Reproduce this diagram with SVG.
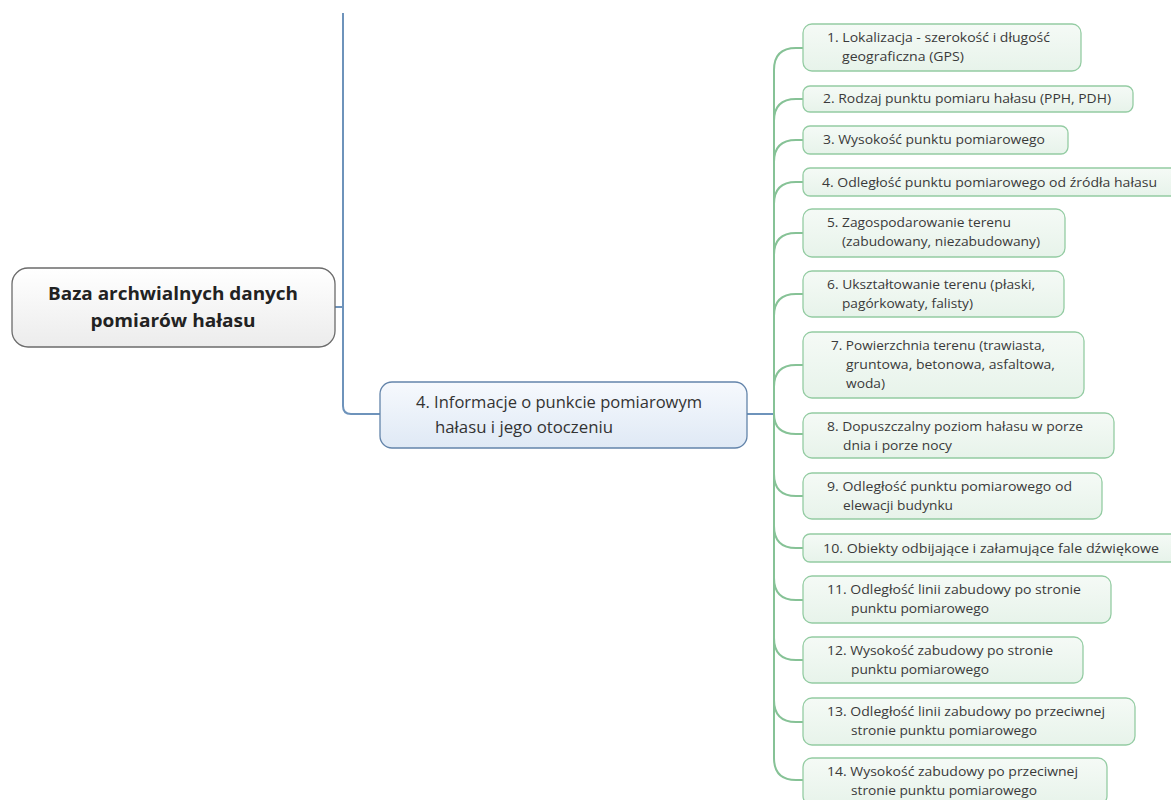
<svg xmlns="http://www.w3.org/2000/svg" width="1171" height="800" viewBox="0 0 1171 800">
<defs>
<linearGradient id="gRoot" x1="0" y1="0" x2="0" y2="1"><stop offset="0" stop-color="#ffffff"/><stop offset="1" stop-color="#ececec"/></linearGradient>
<linearGradient id="gBlue" x1="0" y1="0" x2="0" y2="1"><stop offset="0" stop-color="#f6f9fd"/><stop offset="1" stop-color="#dfe9f5"/></linearGradient>
<linearGradient id="gGreen" x1="0" y1="0" x2="0" y2="1"><stop offset="0" stop-color="#f5faf6"/><stop offset="1" stop-color="#e7f3ea"/></linearGradient>
<style>
.root{fill:url(#gRoot);stroke:#6b6b6b;stroke-width:1.3}
.blue{fill:url(#gBlue);stroke:#6384aa;stroke-width:1.3}
.green{fill:url(#gGreen);stroke:#94cca3;stroke-width:1.3}
.tr{font-family:"Open Sans","Noto Sans",sans-serif;font-weight:bold;font-size:17.5px;fill:#222}
.tb{font-family:"Open Sans","Noto Sans",sans-serif;font-size:15.5px;fill:#333}
.tg{font-family:"Open Sans","Noto Sans",sans-serif;font-size:12.2px;fill:#3a3a3a}
.cb{fill:none;stroke:#6e93bb;stroke-width:2}
.cg{fill:none;stroke:#86c296;stroke-width:2}
</style>
</defs>
<g id="connectors">
<path class="cb" d="M343,13 V406 Q343,414 351,414 H380"/>
<path class="cb" d="M335,307 H343"/>
<path class="cb" d="M747,414 H774"/>
<path class="cg" d="M774,70 V758"/>
<path class="cg" d="M774,70 Q774,48 796,48 H803"/>
<path class="cg" d="M774,121 Q774,99 796,99 H803"/>
<path class="cg" d="M774,162 Q774,140 796,140 H803"/>
<path class="cg" d="M774,204 Q774,182 796,182 H803"/>
<path class="cg" d="M774,255 Q774,233 796,233 H803"/>
<path class="cg" d="M774,316 Q774,294 796,294 H803"/>
<path class="cg" d="M774,387 Q774,365 796,365 H803"/>
<path class="cg" d="M774,414 Q774,434 796,434 H803"/>
<path class="cg" d="M774,474 Q774,496 796,496 H803"/>
<path class="cg" d="M774,526 Q774,548 796,548 H803"/>
<path class="cg" d="M774,578 Q774,600 796,600 H803"/>
<path class="cg" d="M774,638 Q774,660 796,660 H803"/>
<path class="cg" d="M774,700 Q774,722 796,722 H803"/>
<path class="cg" d="M774,758 Q774,780 796,780 H803"/>
</g>
<g id="root">
<rect class="root" x="12" y="268" width="323" height="79" rx="16"/>
<text class="tr" x="173" y="300" text-anchor="middle" textLength="250" lengthAdjust="spacingAndGlyphs">Baza archwialnych danych</text>
<text class="tr" x="173" y="327" text-anchor="middle" textLength="165" lengthAdjust="spacingAndGlyphs">pomiarów hałasu</text>
</g>
<g id="node-info">
<rect class="blue" x="380" y="382" width="367" height="66" rx="12"/>
<text class="tb" x="416" y="408" textLength="286" lengthAdjust="spacingAndGlyphs">4. Informacje o punkcie pomiarowym</text>
<text class="tb" x="435" y="433" textLength="178" lengthAdjust="spacingAndGlyphs">hałasu i jego otoczeniu</text>
</g>
<g id="n1">
<rect class="green" x="803" y="24" width="278" height="47" rx="9"/>
<text class="tg" x="827" y="42" textLength="223" lengthAdjust="spacingAndGlyphs">1. Lokalizacja - szerokość i długość</text>
<text class="tg" x="842" y="61" textLength="122" lengthAdjust="spacingAndGlyphs">geograficzna (GPS)</text>
</g>
<g id="n2">
<rect class="green" x="803" y="86" width="330" height="26" rx="7"/>
<text class="tg" x="823" y="103" textLength="288" lengthAdjust="spacingAndGlyphs">2. Rodzaj punktu pomiaru hałasu (PPH, PDH)</text>
</g>
<g id="n3">
<rect class="green" x="803" y="126" width="265" height="28" rx="7"/>
<text class="tg" x="823" y="144" textLength="222" lengthAdjust="spacingAndGlyphs">3. Wysokość punktu pomiarowego</text>
</g>
<g id="n4">
<rect class="green" x="803" y="168" width="380" height="28" rx="7"/>
<text class="tg" x="822" y="187" textLength="335" lengthAdjust="spacingAndGlyphs">4. Odległość punktu pomiarowego od źródła hałasu</text>
</g>
<g id="n5">
<rect class="green" x="803" y="209" width="262" height="48" rx="9"/>
<text class="tg" x="827" y="227" textLength="184" lengthAdjust="spacingAndGlyphs">5. Zagospodarowanie terenu</text>
<text class="tg" x="842" y="246" textLength="198" lengthAdjust="spacingAndGlyphs">(zabudowany, niezabudowany)</text>
</g>
<g id="n6">
<rect class="green" x="803" y="271" width="261" height="46" rx="9"/>
<text class="tg" x="827" y="289" textLength="208" lengthAdjust="spacingAndGlyphs">6. Ukształtowanie terenu (płaski,</text>
<text class="tg" x="842" y="308" textLength="131" lengthAdjust="spacingAndGlyphs">pagórkowaty, falisty)</text>
</g>
<g id="n7">
<rect class="green" x="803" y="332" width="281" height="66" rx="9"/>
<text class="tg" x="831" y="350" textLength="214" lengthAdjust="spacingAndGlyphs">7. Powierzchnia terenu (trawiasta,</text>
<text class="tg" x="846" y="369" textLength="209" lengthAdjust="spacingAndGlyphs">gruntowa, betonowa, asfaltowa,</text>
<text class="tg" x="846" y="388" textLength="39" lengthAdjust="spacingAndGlyphs">woda)</text>
</g>
<g id="n8">
<rect class="green" x="803" y="413" width="311" height="45" rx="9"/>
<text class="tg" x="827" y="431" textLength="256" lengthAdjust="spacingAndGlyphs">8. Dopuszczalny poziom hałasu w porze</text>
<text class="tg" x="843" y="450" textLength="109" lengthAdjust="spacingAndGlyphs">dnia i porze nocy</text>
</g>
<g id="n9">
<rect class="green" x="803" y="473" width="299" height="46" rx="9"/>
<text class="tg" x="827" y="491" textLength="245" lengthAdjust="spacingAndGlyphs">9. Odległość punktu pomiarowego od</text>
<text class="tg" x="843" y="510" textLength="110" lengthAdjust="spacingAndGlyphs">elewacji budynku</text>
</g>
<g id="n10">
<rect class="green" x="803" y="534" width="380" height="28" rx="7"/>
<text class="tg" x="823" y="553" textLength="336" lengthAdjust="spacingAndGlyphs">10. Obiekty odbijające i załamujące fale dźwiękowe</text>
</g>
<g id="n11">
<rect class="green" x="803" y="576" width="308" height="47" rx="9"/>
<text class="tg" x="827" y="594" textLength="254" lengthAdjust="spacingAndGlyphs">11. Odległość linii zabudowy po stronie</text>
<text class="tg" x="851" y="613" textLength="138" lengthAdjust="spacingAndGlyphs">punktu pomiarowego</text>
</g>
<g id="n12">
<rect class="green" x="803" y="637" width="280" height="46" rx="9"/>
<text class="tg" x="827" y="655" textLength="226" lengthAdjust="spacingAndGlyphs">12. Wysokość zabudowy po stronie</text>
<text class="tg" x="851" y="674" textLength="138" lengthAdjust="spacingAndGlyphs">punktu pomiarowego</text>
</g>
<g id="n13">
<rect class="green" x="803" y="698" width="332" height="47" rx="9"/>
<text class="tg" x="827" y="716" textLength="278" lengthAdjust="spacingAndGlyphs">13. Odległość linii zabudowy po przeciwnej</text>
<text class="tg" x="851" y="735" textLength="186" lengthAdjust="spacingAndGlyphs">stronie punktu pomiarowego</text>
</g>
<g id="n14">
<rect class="green" x="803" y="758" width="304" height="47" rx="9"/>
<text class="tg" x="827" y="776" textLength="251" lengthAdjust="spacingAndGlyphs">14. Wysokość zabudowy po przeciwnej</text>
<text class="tg" x="851" y="795" textLength="186" lengthAdjust="spacingAndGlyphs">stronie punktu pomiarowego</text>
</g>
</svg>
